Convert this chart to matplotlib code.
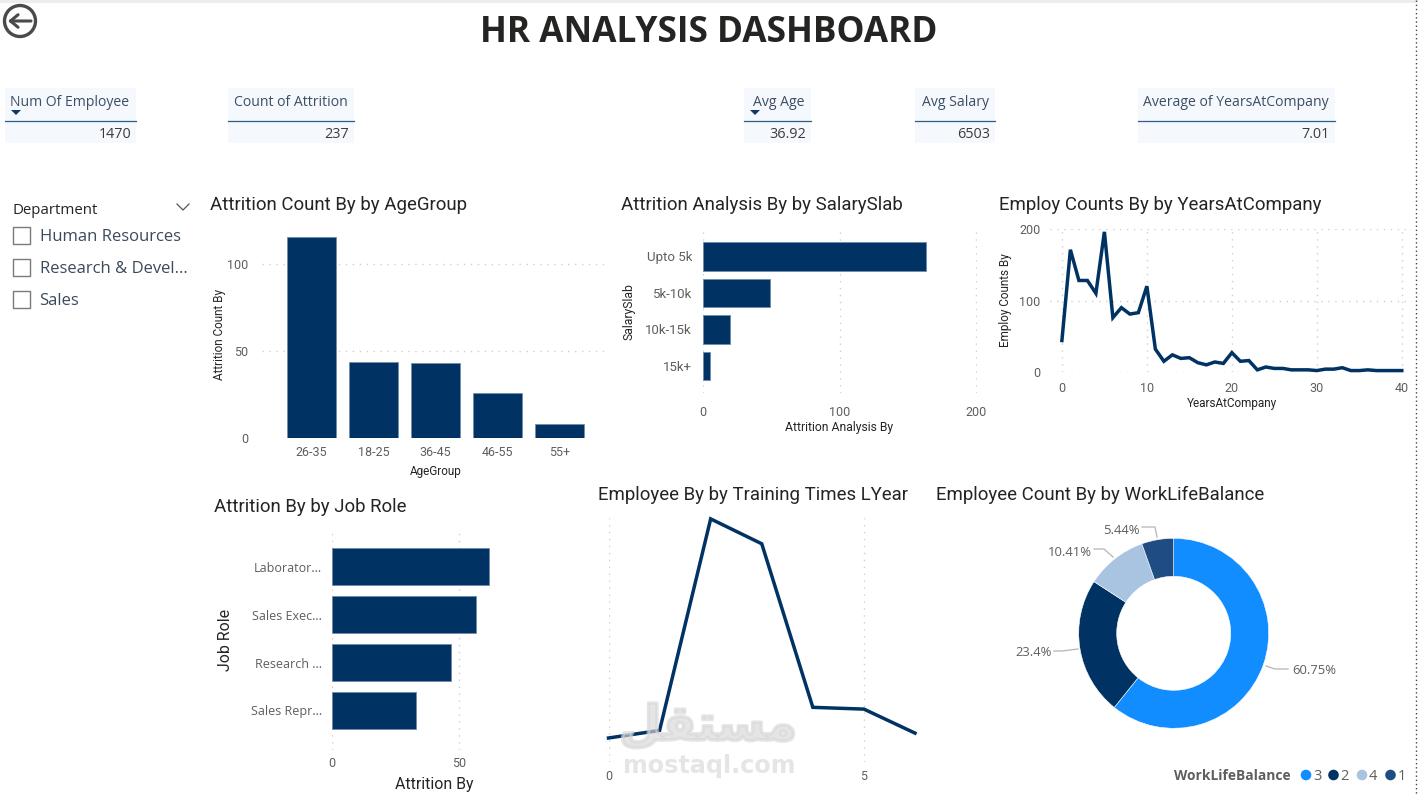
import matplotlib
matplotlib.use('Agg')
import matplotlib.pyplot as plt
import matplotlib.patheffects as pe
from matplotlib.patches import Circle, Rectangle

# --- Data ---
kpi_names = ['Num Of Employee', 'Count of Attrition', 'Avg Age', 'Avg Salary', 'Average of YearsAtCompany']
kpi_values = ['1470', '237', '36.92', '6503', '7.01']
departments = ['Human Resources', 'Research & Devel...', 'Sales']

age_groups = ['26-35', '18-25', '36-45', '46-55', '55+']
age_attrition = [116, 44, 43, 26, 8]

salary_slabs = ['Upto 5k', '5k-10k', '10k-15k', '15k+']
salary_attrition = [163, 49, 20, 5]

years_at_company = list(range(41))
years_employees = [44, 171, 128, 128, 110, 196, 76, 90, 81, 83, 120, 32, 15, 24, 19, 20, 13, 10, 14, 12,
                   27, 15, 16, 3, 7, 5, 5, 3, 3, 3, 2, 4, 4, 6, 2, 2, 3, 2, 2, 2, 2]

job_roles = ['Laborator...', 'Sales Exec...', 'Research ...', 'Sales Repr...']
job_attrition = [62, 57, 47, 33]

training_times = [0, 1, 2, 3, 4, 5, 6]
training_employees = [54, 71, 547, 491, 123, 119, 65]

wlb_labels = ['3', '2', '4', '1']
wlb_share = [60.75, 23.4, 10.41, 5.44]
wlb_text = ['60.75%', '23.4%', '10.41%', '5.44%']
wlb_colors = ['#118DFF', '#003363', '#A9C4E0', '#1F4C82']

NAVY = '#003363'
GREY = '#605E5C'
DARK = '#252423'
W, H = 1418, 796

plt.rcParams['font.family'] = ['Roboto', 'DejaVu Sans']
fig = plt.figure(figsize=(W / 100, H / 100), dpi=100, facecolor='white')

# overlay in pixel coordinates for the text boxes, titles and icons
page = fig.add_axes([0, 0, 1, 1], zorder=5)
page.set_xlim(0, W)
page.set_ylim(H, 0)
page.axis('off')
page.patch.set_alpha(0)


def chart_axes(left, top, right, bottom):
    ax = fig.add_axes([left / W, 1 - bottom / H, (right - left) / W, (bottom - top) / H])
    for side in ax.spines.values():
        side.set_visible(False)
    ax.set_axisbelow(True)
    ax.tick_params(length=0, labelcolor=GREY)
    return ax


def dotted_grid(ax, axis):
    ax.grid(True, axis=axis, color='#CFCFCF', linestyle=(0, (1, 4)), linewidth=1)


def axis_names(ax, xname, xpos, yname, ypos, size):
    if xname:
        ax.set_xlabel(xname, fontsize=size, color=DARK, va='center', ha='center')
        ax.xaxis.set_label_coords(xpos[0], xpos[1], transform=page.transData)
    if yname:
        ax.set_ylabel(yname, fontsize=size, color=DARK, va='center', ha='center', rotation=90)
        ax.yaxis.set_label_coords(ypos[0], ypos[1], transform=page.transData)


# --- Page furniture ---
page.add_patch(Rectangle((0, 0), W, 3, color='#EDEDED', lw=0))
page.plot([1415.5, 1415.5], [0, H], color='#444444', lw=1, linestyle=(0, (1, 2)))
page.text(708.5, 33, 'HR ANALYSIS DASHBOARD', fontsize=25.4, fontweight='bold', color=DARK,
          family='Open Sans', ha='center', va='center')

# back button
page.add_patch(Circle((20, 21), 15.5, fill=False, ec='#4A4A4A', lw=2.4))
page.annotate('', xy=(8, 21), xytext=(31, 21),
              arrowprops=dict(arrowstyle='->,head_width=0.45,head_length=0.55', color='#4A4A4A', lw=2.2,
                              shrinkA=0, shrinkB=0))

# --- KPI cards ---
kpi_left = [5, 228, 744, 915, 1138]
kpi_right = [136, 354, 811, 995, 1335]
for name, value, x0, x1 in zip(kpi_names, kpi_values, kpi_left, kpi_right):
    page.add_patch(Rectangle((x0, 88), x1 - x0, 55, color='#F5F8FD', lw=0))
    page.plot([x0, x1], [120.5, 120.5], color='#2F5D8C', lw=0.9)
    page.text(x1 - 6.5, 102.5, name, fontsize=10.1, color='#3B4E63', family='Open Sans', ha='right', va='center')
    page.text(x1 - 5, 134, value, fontsize=10.4, color='#3B3B3B', family='Open Sans', ha='right', va='center')
for x in [16, 755]:
    page.fill([x - 5, x + 5, x], [110, 110, 115], color='#0F3A66', lw=0)

# --- Department slicer ---
page.text(13, 210, 'Department', fontsize=10.8, color=DARK, family='Open Sans', va='center')
page.plot([177, 183, 189], [204, 210, 204], color='#555555', lw=0.9)
for i, dept in enumerate(departments):
    y = 235.5 + i * 32
    page.add_patch(Rectangle((13, y - 8.5), 17, 17, fill=False, ec='#7A7A7A', lw=1))
    page.text(39.5, y + 1.5, dept, fontsize=12, color='#3A4A5C', family='Open Sans', va='center')

# --- Chart titles ---
titles = [('Attrition Count By by AgeGroup', 210, 205), ('Attrition Analysis By by SalarySlab', 621, 205),
          ('Employ Counts By by YearsAtCompany', 999, 205), ('Attrition By by Job Role', 214, 507),
          ('Employee By by Training Times LYear', 598, 495), ('Employee Count By by WorkLifeBalance', 936, 495)]
for text, x, y in titles:
    page.text(x, y, text, fontsize=13.45, color=DARK, va='center')

# --- Attrition by age group ---
ax = chart_axes(262, 224, 608, 438)
ax.bar(range(len(age_groups)), age_attrition, width=0.78, color=NAVY, edgecolor='#6F8CAB', linewidth=0.5)
ax.set_xlim(-0.798, 4.782)
ax.set_ylim(0, 123.3)
ax.set_xticks(range(len(age_groups)), age_groups, fontsize=9)
ax.set_yticks([0, 50, 100], ['0', '50', '100'], fontsize=9)
ax.tick_params(axis='x', pad=6)
ax.tick_params(axis='y', pad=10)
dotted_grid(ax, 'y')
axis_names(ax, 'AgeGroup', (436, 471), 'Attrition Count By', (219, 334), 8.5)

# --- Attrition by salary slab ---
ax = chart_axes(703, 228, 977, 393)
ax.barh(range(len(salary_slabs)), salary_attrition, height=0.77, color=NAVY, edgecolor='#6F8CAB', linewidth=0.6)
ax.set_xlim(0, 200.5)
ax.set_ylim(3.74, -0.78)
ax.set_yticks(range(len(salary_slabs)), salary_slabs, fontsize=9.5)
ax.set_xticks([0, 100, 200], ['0', '100', '200'], fontsize=9)
ax.tick_params(axis='x', pad=9)
ax.tick_params(axis='y', pad=8)
dotted_grid(ax, 'x')
axis_names(ax, 'Attrition Analysis By', (839, 427), 'SalarySlab', (629, 312), 8.7)

# --- Employees by years at company ---
ax = chart_axes(1050, 229, 1412, 372)
ax.plot(years_at_company, years_employees, color=NAVY, lw=2.5, solid_joinstyle='miter')
ax.set_xlim(-1.4, 41.2)
ax.set_ylim(0, 200)
ax.set_xticks([0, 10, 20, 30, 40], ['0', '10', '20', '30', '40'], fontsize=9)
ax.set_yticks([0, 100, 200], ['0', '100', '200'], fontsize=9)
ax.tick_params(axis='x', pad=7)
ax.tick_params(axis='y', pad=7)
dotted_grid(ax, 'both')
for line in ax.get_lines():
    line.set_clip_on(False)
axis_names(ax, 'YearsAtCompany', (1232, 404), 'Employ Counts By', (1006, 300), 8.5)

# --- Attrition by job role ---
ax = chart_axes(332, 532, 500, 750)
ax.barh(range(len(job_roles)), job_attrition, height=0.77, color=NAVY, edgecolor='#6F8CAB', linewidth=0.6)
ax.set_xlim(0, 66.3)
ax.set_ylim(3.83, -0.73)
ax.set_yticks(range(len(job_roles)), job_roles, fontsize=9, family='Open Sans')
ax.set_xticks([0, 50], ['0', '50'], fontsize=9)
ax.tick_params(axis='x', pad=5)
ax.tick_params(axis='y', pad=7)
dotted_grid(ax, 'x')
axis_names(ax, 'Attrition By', (434, 785), 'Job Role', (225, 640), 11.4)

# --- Employees by training times ---
ax = chart_axes(608.5, 518, 915, 762)
ax.plot(training_times, training_employees, color=NAVY, lw=2.5, solid_joinstyle='miter')
ax.set_xlim(0, 6)
ax.set_ylim(0, 549)
ax.set_xticks([0, 5], ['0', '5'], fontsize=9)
ax.set_yticks([])
ax.tick_params(axis='x', pad=6)
dotted_grid(ax, 'x')
for line in ax.get_lines():
    line.set_clip_on(False)

# --- Work life balance donut ---
ax = chart_axes(1078.7, 538.3, 1268.7, 728.3)
ax.pie(wlb_share, colors=wlb_colors, startangle=90, counterclock=False, radius=1,
       wedgeprops=dict(width=0.4, linewidth=0.4, edgecolor='white'))
ax.set_xlim(-1, 1)
ax.set_ylim(-1, 1)

leaders = [([1266, 1275, 1288], [666, 669, 669]), ([1078, 1062, 1054], [649, 651, 651]),
           ([1094, 1104, 1113], [549, 549, 557]), ([1142, 1155, 1157], [527, 527, 537])]
for xs, ys in leaders:
    page.plot(xs, ys, color='#B5B5B5', lw=0.9)
label_pos = [(1292, 671), (1015, 652.5), (1048, 552), (1103, 530)]
for text, (x, y) in zip(wlb_text, label_pos):
    page.text(x, y, text, fontsize=9.4, color=GREY, family='Open Sans', va='center')

# legend
page.text(1291, 776, 'WorkLifeBalance', fontsize=9.9, fontweight='bold', color=GREY,
          family='Open Sans', ha='right', va='center')
legend_x = [1306, 1333.5, 1362, 1390.5]
for label, color, x in zip(wlb_labels, wlb_colors, legend_x):
    page.add_patch(Circle((x, 775), 5.3, color=color, lw=0))
    page.text(x + 7, 776, label, fontsize=10.5, color=GREY, family='Open Sans', va='center')

# --- mostaql watermark ---
page.text(709, 766, 'mostaql.com', fontsize=17.2, fontweight='bold', color='#D8D8D8', alpha=0.65,
          family='DejaVu Sans', ha='center', va='center')
page.text(708, 726, '\uFEDE\uFED8\uFE98\uFEB4\uFEE3', fontsize=35, fontweight='bold', color='#D8D8D8', alpha=0.65,
          family='DejaVu Sans', ha='center', va='center',
          path_effects=[pe.Stroke(linewidth=2.5, foreground='#D8D8D8')])

fig.savefig('out.png', dpi=100)
